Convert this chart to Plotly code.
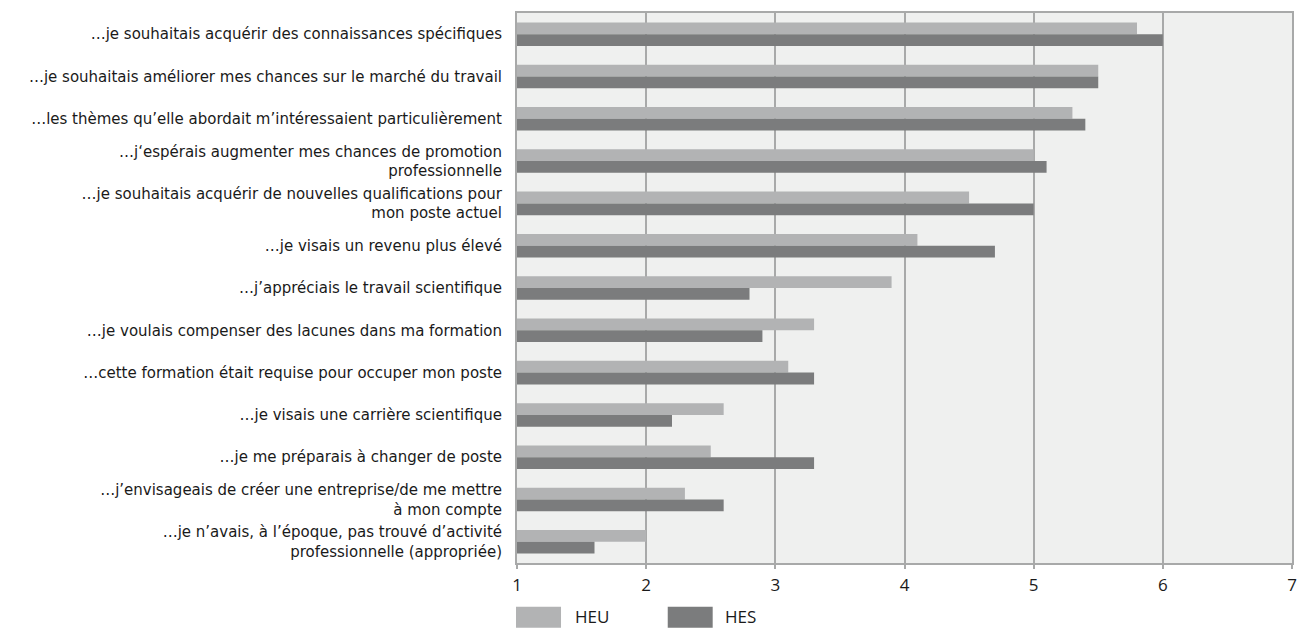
import plotly.graph_objects as go

# Motivations (top to bottom) and mean ratings on a 1–7 scale
categories = [
    "…je souhaitais acquérir des connaissances spécifiques",
    "…je souhaitais améliorer mes chances sur le marché du travail",
    "…les thèmes qu’elle abordait m’intéressaient particulièrement",
    "…j‘espérais augmenter mes chances de promotion<br>professionnelle",
    "…je souhaitais acquérir de nouvelles qualifications pour<br>mon poste actuel",
    "…je visais un revenu plus élevé",
    "…j’appréciais le travail scientifique",
    "…je voulais compenser des lacunes dans ma formation",
    "…cette formation était requise pour occuper mon poste",
    "…je visais une carrière scientifique",
    "…je me préparais à changer de poste",
    "…j’envisageais de créer une entreprise/de me mettre<br>à mon compte",
    "…je n’avais, à l’époque, pas trouvé d’activité<br>professionnelle (appropriée)",
]
heu_values = [5.8, 5.5, 5.3, 5.0, 4.5, 4.1, 3.9, 3.3, 3.1, 2.6, 2.5, 2.3, 2.0]
hes_values = [6.0, 5.5, 5.4, 5.1, 5.0, 4.7, 2.8, 2.9, 3.3, 2.2, 3.3, 2.6, 1.6]
series_names = ["HEU", "HES"]
x_ticks = [1, 2, 3, 4, 5, 6, 7]

HEU_COLOR = "#b2b3b4"
HES_COLOR = "#7b7c7d"
GRID_COLOR = "#a8a9a9"
TEXT_COLOR = "#1a1a1a"

fig = go.Figure()
# Bars start at 1 (bottom of the rating scale)
fig.add_trace(go.Bar(
    name=series_names[0], y=categories, x=[v - 1 for v in heu_values], base=1,
    orientation="h", marker=dict(color=HEU_COLOR, line=dict(width=0)),
))
fig.add_trace(go.Bar(
    name=series_names[1], y=categories, x=[v - 1 for v in hes_values], base=1,
    orientation="h", marker=dict(color=HES_COLOR, line=dict(width=0)),
))

# Legend drawn as wide swatches below the axis
legend_items = [
    (series_names[0], HEU_COLOR, -0.0013, 0.0568, 0.0723),
    (series_names[1], HES_COLOR, 0.1945, 0.2525, 0.2658),
]
shapes = []
annotations = []
for name, color, x0, x1, xt in legend_items:
    shapes.append(dict(type="rect", xref="paper", yref="paper",
                       x0=x0, x1=x1, y0=-0.1178, y1=-0.0797,
                       fillcolor=color, line=dict(width=0), layer="above"))
    annotations.append(dict(text=name, xref="paper", yref="paper", x=xt, y=-0.0978,
                            xanchor="left", yanchor="middle", showarrow=False,
                            font=dict(family="Open Sans", size=17, color=TEXT_COLOR)))

fig.update_layout(
    width=1311, height=628,
    margin=dict(l=517, r=19, t=11, b=65),
    paper_bgcolor="white",
    plot_bgcolor="#eff0ef",
    barmode="group",
    bargap=0.444,
    bargroupgap=0,
    showlegend=False,
    shapes=shapes,
    annotations=annotations,
    font=dict(family="DejaVu Sans", size=15, color=TEXT_COLOR),
)
fig.update_xaxes(
    range=[1, 7], tickvals=x_ticks, ticktext=[str(t) for t in x_ticks],
    showgrid=True, gridcolor=GRID_COLOR, gridwidth=1.5,
    showline=True, linecolor=GRID_COLOR, linewidth=2, mirror=True,
    ticks="outside", ticklen=4, tickcolor=GRID_COLOR, tickwidth=1.5,
    ticklabelstandoff=2,
    zeroline=False, tickfont=dict(family="Open Sans", size=17, color=TEXT_COLOR),
)
fig.update_yaxes(
    categoryorder="array", categoryarray=categories, autorange="reversed",
    showgrid=False, showline=True, linecolor=GRID_COLOR, linewidth=2, mirror=True,
    ticks="", ticklabelstandoff=10,
    tickfont=dict(family="DejaVu Sans", size=15, color=TEXT_COLOR),
)

fig.write_html("out.html")
